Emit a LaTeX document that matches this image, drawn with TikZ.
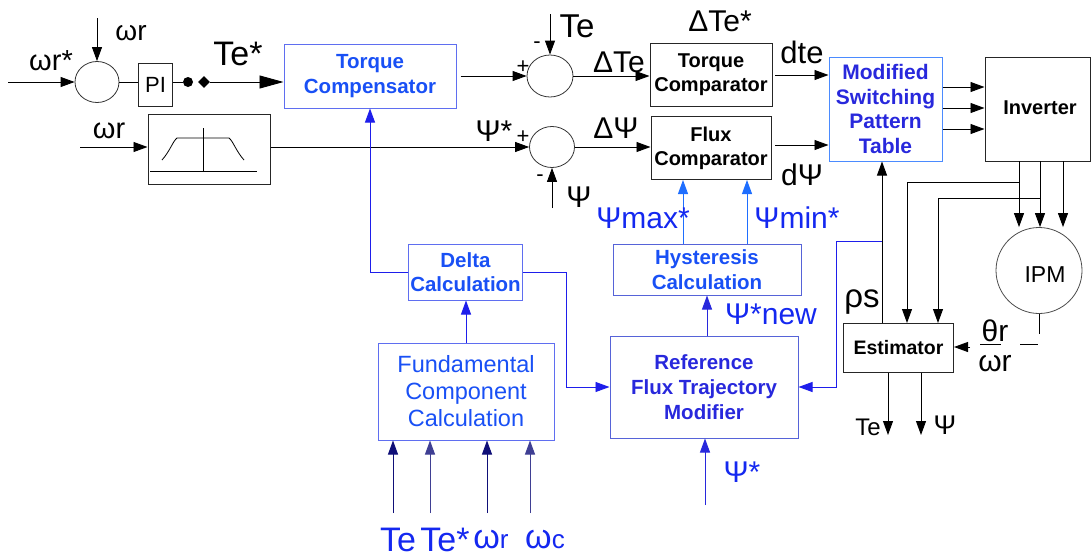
\documentclass[tikz,border=0pt]{standalone}
\usepackage{fontspec}
\setmainfont{Liberation Sans}
\usetikzlibrary{arrows.meta,shapes.geometric}
\definecolor{bxblue}{RGB}{95,110,240}
\definecolor{txblue}{RGB}{25,80,245}
\definecolor{dkblue}{RGB}{40,40,220}
\definecolor{lnblue}{RGB}{30,30,235}
\definecolor{ltblue}{RGB}{30,110,255}
\definecolor{navyb}{RGB}{15,15,120}
\definecolor{lblblue}{RGB}{20,40,240}
\newcommand\myfs[1]{\fontsize{#1}{#1}\selectfont}
\newcommand\myfsb[2]{\fontsize{#1}{#2}\selectfont}
\begin{document}
\begin{tikzpicture}[x=1pt,y=-1pt,line width=0.9pt,
  arr/.style={-{Triangle[length=14pt,width=10pt]}},
  bigarr/.style={-{Triangle[length=24pt,width=13pt]}},
  blk/.style={draw=black!85,line width=1pt,inner sep=0pt,align=center,font=\bfseries\myfsb{20}{24}},
  bbox/.style={draw=bxblue,line width=1pt,inner sep=0pt,align=center,text=txblue,font=\bfseries\myfsb{20.5}{24.5}},
  sumc/.style={ellipse,draw=black!80,line width=0.8pt,inner sep=0pt},
  lbl/.style={inner sep=0pt,font=\myfs{30}},
  blbl/.style={inner sep=0pt,font=\myfs{30},text=lblblue},
]
\useasboundingbox (0,0) rectangle (1092,557);

% ---------- top row ----------
\node[sumc,minimum width=44pt,minimum height=41pt] (sum1) at (97,82) {};
\node[draw=black!85,line width=0.9pt,minimum width=34pt,minimum height=43pt,inner sep=0pt,font=\myfs{22}] (pi) at (155.5,84.5) {PI};
\node[circle,fill,inner sep=0pt,minimum size=10pt] (dot) at (188,82) {};
\node[diamond,fill,inner sep=0pt,minimum size=12pt] (dia) at (204,82) {};
\node[bbox,minimum width=172pt,minimum height=64pt] (tc) at (370,76) {Torque\\Compensator};
\node[sumc,minimum width=46pt,minimum height=42pt] (sum2) at (550,76) {};
\node[blk,minimum width=122pt,minimum height=63pt] (tcomp) at (711,74.5) {Torque\\Comparator};
\node[bbox,draw=ltblue!80,text=dkblue,minimum width=113pt,minimum height=104pt,font=\bfseries\myfsb{21}{24.5}] (mspt) at (885.5,109) {Modified\\Switching\\Pattern\\Table};
\node[draw=black!85,line width=1pt,minimum width=105pt,minimum height=104pt,inner sep=0pt] (inv) at (1037.5,109) {};
\node[inner sep=0pt,font=\bfseries\myfs{20}] (invt) at (1040,108) {Inverter};

\coordinate (wrsin) at (8,82);
\coordinate (wrtop) at (97,18);
\draw[arr] (wrsin) -- (sum1);
\draw[arr] (wrtop) -- (sum1);
\draw (sum1.east) -- (sum1.east -| pi.west);
\draw (pi.east |- dot) -- (dot);
\draw[bigarr] (dia) -- (dia -| tc.west);
\draw[arr] ([xshift=4pt]tc.east) -- (sum2);
\coordinate (tetop) at (550,14);
\draw[arr] (tetop) -- (sum2);
\draw[arr] (sum2) -- (sum2 -| tcomp.west);
\coordinate (dtes) at (775,75);
\draw[arr] (dtes) -- (dtes -| mspt.west);
\draw[arr] ([yshift=22pt]mspt.east) -- ([yshift=22pt]mspt.east -| inv.west);
\draw[arr] ([yshift=1pt]mspt.east) -- ([yshift=1pt]mspt.east -| inv.west);
\draw[arr] ([yshift=-20pt]mspt.east) -- ([yshift=-20pt]mspt.east -| inv.west);

% ---------- second row ----------
\node[draw=black!85,line width=1pt,minimum width=122pt,minimum height=70pt,inner sep=0pt] (lim) at (209,149.5) {};
\draw[line width=0.8pt] (150,171) -- (257,171);
\draw[line width=0.8pt] (203,128) -- (203,171);
\draw[line width=0.8pt] (162,160) .. controls (170,151) and (173,141) .. (177,138) -- (229,138) .. controls (233,141) and (236,151) .. (244,160);
\node[sumc,minimum width=45pt,minimum height=41pt] (sum3) at (552,147) {};
\node[blk,minimum width=120pt,minimum height=63pt] (fcomp) at (711,148) {Flux\\Comparator};

\coordinate (wr2in) at (80,147);
\draw[arr] (wr2in) -- (wr2in -| lim.west);
\draw[arr] (lim.east |- sum3) -- (sum3);
\coordinate (psibot) at (552,208);
\draw[arr] (psibot) -- (sum3);
\draw[arr] (sum3) -- (sum3 -| fcomp.west);
\coordinate (dpsis) at (775,145);
\draw[arr] (dpsis) -- (dpsis -| mspt.west);

% ---------- lower blocks ----------
\node[bbox,draw=bxblue!90!black,minimum width=188pt,minimum height=51pt] (hyst) at (707,269.5) {Hysteresis\\Calculation};
\node[bbox,draw=bxblue!90!black,text=dkblue,minimum width=188pt,minimum height=102pt,font=\bfseries\myfsb{20.5}{25}] (ref) at (704,387) {Reference\\Flux Trajectory\\Modifier};
\node[bbox,minimum width=114pt,minimum height=56pt] (delta) at (465.5,272) {Delta\\Calculation};
\node[bbox,minimum width=176pt,minimum height=97pt,font=\myfsb{23.5}{27}] (fund) at (466,391.5) {Fundamental\\Component\\Calculation};

\draw[arr,ltblue] ([xshift=-24pt]hyst.north) -- ([xshift=-28pt]fcomp.south);
\draw[arr,ltblue] ([xshift=40pt]hyst.north) -- ([xshift=36pt]fcomp.south);
\draw[arr,dkblue] ([xshift=3pt]ref.north) -- (hyst.south);
\draw[arr,lnblue] (fund.north) -- (fund.north |- delta.south);
\draw[arr,lnblue] (delta.west) -| (tc.south);
\coordinate (dlt) at (566,387);
\draw[arr,lnblue] (delta.east) -| (dlt) -- (ref.west);

\coordinate (in1) at (393,513);
\coordinate (in2) at (430,513);
\coordinate (in3) at (487,513);
\coordinate (in4) at (530,513);
\draw[arr,navyb] (in1) -- (in1 |- fund.south);
\draw[arr,navyb!80!white] (in2) -- (in2 |- fund.south);
\draw[arr,navyb] (in3) -- (in3 |- fund.south);
\draw[arr,navyb!80!white] (in4) -- (in4 |- fund.south);
\coordinate (psisb) at (705,505);
\draw[arr,dkblue] (psisb) -- (psisb |- ref.south);

% ---------- right part ----------
\node[draw=black!85,line width=1pt,minimum width=110pt,minimum height=49pt,inner sep=0pt,font=\bfseries\myfs{19.5}] (est) at (898.5,347.5) {Estimator};
\node[circle,draw=black!70,line width=0.8pt,minimum size=86pt,inner sep=0pt] (ipm) at (1039,270.5) {};
\node[inner sep=0pt,font=\myfs{23}] (ipmt) at (1045,275) {IPM};

\coordinate (rho) at (882,323);
\draw[arr] (rho) -- (rho |- mspt.south);
\coordinate (rj) at (882,241);
\coordinate (rl) at (836,387);
\draw[arr,lnblue] (rj) -| (rl) -- (rl -| ref.east);

\coordinate (iv1) at (1019,161);
\coordinate (iv2) at (1040,161);
\coordinate (iv3) at (1063,161);
\draw[arr] (iv1) -- (iv1 |- ipm.north);
\draw[arr] (iv2) -- (iv2 |- ipm.north);
\draw[arr] (iv3) -- (iv3 |- ipm.north);
\coordinate (b1) at (1019,182);
\coordinate (b2) at (1040,198);
\coordinate (e1) at (907,323);
\coordinate (e2) at (938,323);
\draw[arr] (b1) -| (e1);
\draw[arr] (b2) -| (e2);
\draw (ipm.south) -- ++(0,20);
\draw (1020,344) -- (1038,344);
\coordinate (th) at (970,347);
\draw[arr] (th) -- (th -| est.east);
\draw (980,344) -- (1001,344);
\coordinate (o1) at (888,435);
\coordinate (o2) at (921,435);
\draw[arr] (o1 |- est.south) -- (o1);
\draw[arr] (o2 |- est.south) -- (o2);

% ---------- labels ----------
\node[lbl,font=\myfs{29}] (lwrs) at (51,61) {ωr*};
\node[lbl,font=\myfs{28}] (lwr1) at (131,33) {ωr};
\node[lbl,font=\myfs{34}] (ltes) at (238,54) {Te*};
\node[lbl,font=\myfs{29}] (lwr2) at (109,131) {ωr};
\node[lbl,font=\myfs{33}] (lte) at (577,26) {Te};
\node[lbl] (ldte) at (619,62) {ΔTe};
\node[lbl] (ldtes) at (720,21) {ΔTe*};
\node[lbl,font=\myfs{31}] (ldtel) at (802,52) {dte};
\node[lbl] (lpsis) at (494,131) {Ψ*};
\node[lbl] (ldpsi) at (616,128) {ΔΨ};
\node[lbl] (lpsi) at (579,197) {Ψ};
\node[lbl] (ldpsil) at (802,175) {dΨ};
\node[lbl,font=\myfs{22}] (lp1) at (523,67) {+};
\node[lbl,font=\myfs{22}] (lm1) at (537,45) {-};
\node[lbl,font=\myfs{22}] (lp2) at (523,137) {+};
\node[lbl,font=\myfs{22}] (lm2) at (540,178) {-};
\node[blbl] (lpmax) at (643,218) {Ψmax*};
\node[blbl] (lpmin) at (797,218) {Ψmin*};
\node[blbl] (lpnew) at (771,314) {Ψ*new};
\node[blbl] (lpsib) at (742,472) {Ψ*};
\node[blbl,font=\myfs{34}] (lb1) at (398,540) {Te};
\node[blbl,font=\myfs{34}] (lb2) at (445,540) {Te*};
\node[blbl,font=\myfs{34}] (lb3) at (491,540) {ω{\myfs{26}r}};
\node[blbl,font=\myfs{34}] (lb4) at (545,540) {ω{\myfs{26}c}};
\node[lbl,font=\myfs{33}] (lrho) at (862,302) {ρs};
\node[lbl] (lth) at (995,331) {θr};
\node[lbl] (lwr3) at (995,364) {ωr};
\node[lbl,font=\myfs{24}] (lteo) at (868,427) {Te};
\node[lbl,font=\myfs{27}] (lpsio) at (945,425) {Ψ};
\end{tikzpicture}
\end{document}
